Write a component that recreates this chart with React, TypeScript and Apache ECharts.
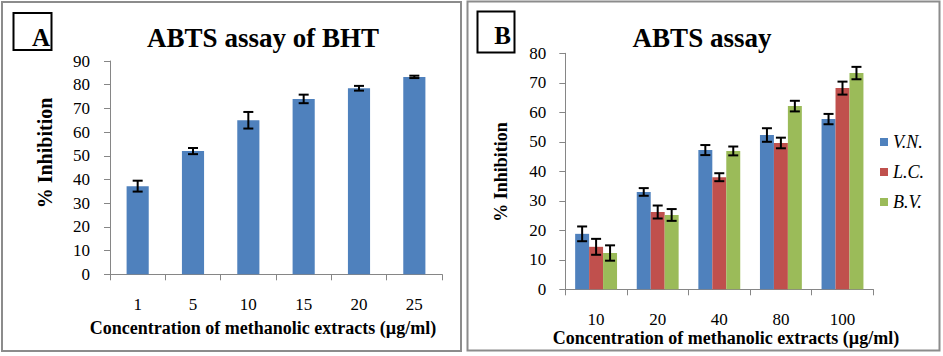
import React, { useEffect, useRef } from "react";
import * as echarts from "echarts";

const catsA = ["1", "5", "10", "15", "20", "25"];
const valsA = [37.2, 52.0, 65.0, 74.0, 78.5, 83.3];
const errA = [2.3, 1.3, 3.5, 1.8, 1.0, 0.5];

const catsB = ["10", "20", "40", "80", "100"];
const namesB = ["V.N.", "L.C.", "B.V."];
const vn = [18.8, 33.0, 47.2, 52.3, 57.7];
const lc = [14.4, 26.2, 38.0, 49.6, 68.2];
const bv = [12.3, 25.2, 46.9, 62.1, 73.3];
const errVN = [2.5, 1.3, 1.7, 2.3, 1.75];
const errLC = [2.7, 2.2, 1.35, 1.8, 2.2];
const errBV = [2.6, 2.0, 1.5, 1.8, 2.1];

const colorsB = ["#4F81BD", "#C0504D", "#9BBB59"];
const FONT = "Liberation Serif";

function errSeries(
  name: string,
  xIdx: number,
  vals: number[],
  errs: number[],
  k: number,
  n: number,
  gapFrac: number
) {
  return {
    type: "custom",
    name: name + "_err",
    xAxisIndex: xIdx,
    yAxisIndex: xIdx,
    z: 10,
    silent: true,
    encode: { x: 0, y: 1 },
    data: vals.map((v, i) => [i, v, errs[i]]),
    renderItem: (params: any, api: any) => {
      const ci = api.value(0);
      const m = api.value(1);
      const e = api.value(2);
      const hi = api.coord([ci, m + e]);
      const lo = api.coord([ci, m - e]);
      const band = api.size([1, 0])[0];
      const bw = (band * (1 - gapFrac)) / n;
      const off = (k - (n - 1) / 2) * bw;
      const cx = hi[0] + off;
      const st = { stroke: "#000", lineWidth: 2 };
      return {
        type: "group",
        children: [
          { type: "line", shape: { x1: cx, y1: hi[1], x2: cx, y2: lo[1] }, style: st },
          { type: "line", shape: { x1: cx - 5, y1: hi[1], x2: cx + 5, y2: hi[1] }, style: st },
          { type: "line", shape: { x1: cx - 5, y1: lo[1], x2: cx + 5, y2: lo[1] }, style: st },
        ],
      };
    },
  };
}

const axisCommon = {
  axisLine: { show: true, lineStyle: { color: "#868686", width: 1 } },
  axisTick: { show: true, length: 6, lineStyle: { color: "#868686" } },
  splitLine: { show: false },
};

function txt(x: number, y: number, text: string, size: number, opts: any = {}) {
  return {
    type: "text",
    x,
    y,
    rotation: opts.rotation || 0,
    style: {
      text,
      fontFamily: FONT,
      fontSize: size,
      fontWeight: "bold",
      fill: "#000",
      align: "center",
      verticalAlign: "middle",
    },
  };
}

export default function App() {
  const ref = useRef<HTMLDivElement>(null);
  useEffect(() => {
    const chart = echarts.init(ref.current!, null, { renderer: "svg" });
    const labelStyle = { color: "#000", fontFamily: FONT, fontSize: 17 };
    chart.setOption({
      animation: false,
      backgroundColor: "#fff",
      textStyle: { fontFamily: FONT },
      grid: [
        { left: 110, top: 61, width: 332, height: 213.3 },
        { left: 565.3, top: 53.3, width: 308, height: 236 },
      ],
      xAxis: [
        {
          type: "category",
          gridIndex: 0,
          data: catsA,
          ...axisCommon,
          axisLabel: { ...labelStyle, margin: 22 },
        },
        {
          type: "category",
          gridIndex: 1,
          data: catsB,
          ...axisCommon,
          axisLabel: { ...labelStyle, margin: 22 },
        },
      ],
      yAxis: [
        {
          type: "value",
          gridIndex: 0,
          min: 0,
          max: 90,
          interval: 10,
          ...axisCommon,
          axisLabel: { ...labelStyle, margin: 20 },
        },
        {
          type: "value",
          gridIndex: 1,
          min: 0,
          max: 80,
          interval: 10,
          ...axisCommon,
          axisLabel: { ...labelStyle, margin: 19 },
        },
      ],
      legend: {
        data: namesB,
        orient: "vertical",
        left: 880,
        top: 132,
        padding: 0,
        itemWidth: 8,
        itemHeight: 8,
        itemGap: 10,
        icon: "rect",
        textStyle: {
          fontFamily: FONT,
          fontStyle: "italic",
          fontSize: 18,
          color: "#000",
          lineHeight: 20,
        },
      },
      series: [
        {
          type: "bar",
          name: "BHT",
          xAxisIndex: 0,
          yAxisIndex: 0,
          data: valsA,
          barWidth: "40%",
          itemStyle: { color: "#4F81BD" },
        },
        errSeries("BHT", 0, valsA, errA, 0, 1, 0.6),
        ...namesB.map((nm, k) => ({
          type: "bar",
          name: nm,
          xAxisIndex: 1,
          yAxisIndex: 1,
          data: [vn, lc, bv][k],
          barGap: "0%",
          barCategoryGap: "32%",
          itemStyle: { color: colorsB[k] },
        })),
        ...namesB.map((nm, k) =>
          errSeries(nm, 1, [vn, lc, bv][k], [errVN, errLC, errBV][k], k, 3, 0.32)
        ),
      ],
      graphic: [
        { type: "rect", shape: { x: 2, y: 2, width: 459, height: 349 }, style: { fill: "none", stroke: "#8c8c8c", lineWidth: 2 } },
        { type: "rect", shape: { x: 467.5, y: 1.5, width: 472, height: 349 }, style: { fill: "none", stroke: "#8c8c8c", lineWidth: 2 } },
        { type: "rect", shape: { x: 13.5, y: 13, width: 38, height: 37 }, style: { fill: "none", stroke: "#000", lineWidth: 2 } },
        { type: "rect", shape: { x: 477.5, y: 11.5, width: 37, height: 41 }, style: { fill: "none", stroke: "#000", lineWidth: 2 } },
        txt(41, 37, "A", 25),
        txt(502.5, 35, "B", 25),
        txt(263, 38, "ABTS assay of BHT", 27),
        txt(702, 38, "ABTS assay", 27),
        txt(263, 328, "Concentration of methanolic extracts (µg/ml)", 18),
        txt(726, 338, "Concentration of methanolic extracts (µg/ml)", 18),
        txt(45, 153, "% Inhibition", 20, { rotation: Math.PI / 2 }),
        txt(501, 172, "% Inhibition", 18, { rotation: Math.PI / 2 }),
      ],
    });
    return () => chart.dispose();
  }, []);
  return (
    <div
      ref={ref}
      style={{ position: "fixed", left: 0, top: 0, width: 943, height: 356 }}
    />
  );
}
